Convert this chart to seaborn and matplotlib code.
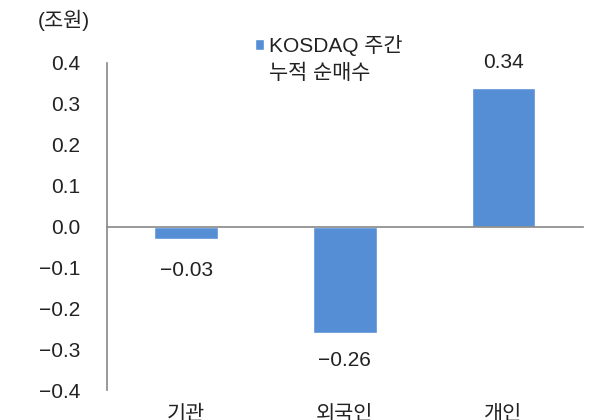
import matplotlib
matplotlib.use('Agg')
import matplotlib.pyplot as plt
import matplotlib.transforms as mtransforms
import seaborn as sns
import pandas as pd
import numpy as np

# data
categories = ['기관', '외국인', '개인']
values = [-0.03, -0.26, 0.34]
value_labels = ['−0.03', '−0.26', '0.34']
yticks = [-0.4, -0.3, -0.2, -0.1, 0.0, 0.1, 0.2, 0.3, 0.4]
series_name = 'KOSDAQ 주간'
series_name2 = '누적 순매수'
unit_label = '(조원)'

df = pd.DataFrame({'cat': categories, 'val': values})

sns.set_theme(style='white')
plt.rcParams['font.family'] = ['Liberation Sans', 'Noto Sans CJK KR', 'DejaVu Sans']
plt.rcParams['axes.unicode_minus'] = True

bar_color = '#558ED5'
axis_gray = '#8C8C8C'
text_color = '#222222'
fs = 15

fig = plt.figure(figsize=(5.94, 4.2), dpi=100)
ax = fig.add_axes([0.180, 0.0714, 0.801, 0.7786])

sns.barplot(data=df, x='cat', y='val', color=bar_color, width=0.4,
            saturation=1, ax=ax, label=series_name)

ax.set_xlim(-0.5, len(categories) - 0.5)
ax.set_ylim(yticks[0], yticks[-1])
ax.set_yticks(yticks)
ax.set_yticklabels([f'{t:.1f}'.replace('-', '−') for t in yticks], fontsize=fs, color=text_color)
ax.set_xlabel('')
ax.set_ylabel('')

# spines: left axis and a zero line with category separators
for s in ['top', 'right']:
    ax.spines[s].set_visible(False)
ax.spines['left'].set_color(axis_gray)
ax.spines['bottom'].set_color(axis_gray)
ax.spines['bottom'].set_position(('data', 0))
ax.tick_params(axis='y', direction='in', length=4, color=axis_gray, pad=19)
ax.set_xticks(np.arange(len(categories)))
ax.set_xticklabels([])
ax.tick_params(axis='x', which='major', length=0)
ax.set_xticks(np.arange(len(categories)) + 0.5, minor=True)
ax.tick_params(axis='x', which='minor', direction='in', length=5, color=axis_gray)

# category names at the bottom of the axes (cut by the figure edge, as in the source)
trans = mtransforms.blended_transform_factory(ax.transData, ax.transAxes)
for i, c in enumerate(categories):
    ax.text(i, -0.045, c, transform=trans, ha='center', va='top',
            fontsize=fs, color=text_color)

# value labels
for i, (v, lab) in enumerate(zip(values, value_labels)):
    if v >= 0:
        ax.annotate(lab, (i, v), xytext=(0, 11), textcoords='offset points',
                    ha='center', va='bottom', fontsize=fs, color=text_color)
    else:
        off = -16 if i == 0 else -13
        ax.annotate(lab, (i, v), xytext=(0, off), textcoords='offset points',
                    ha='center', va='top', fontsize=fs, color=text_color)

# legend: first line with the handle, second line below it
leg = ax.legend(loc='upper left', bbox_to_anchor=(0.272, 1.142), frameon=False,
                fontsize=fs, handlelength=0.45, handleheight=0.45, handletextpad=0.2,
                labelcolor=text_color)
fig.canvas.draw()
bb = leg.get_texts()[0].get_window_extent()
fig.text(bb.x0 / fig.bbox.width, (bb.y0 - 28 + bb.height / 2) / fig.bbox.height,
         series_name2, fontsize=fs, color=text_color, va='center', ha='left')

fig.text(0.064, 0.952, unit_label, fontsize=fs, color=text_color, va='center')

fig.savefig('out.png', dpi=100)
